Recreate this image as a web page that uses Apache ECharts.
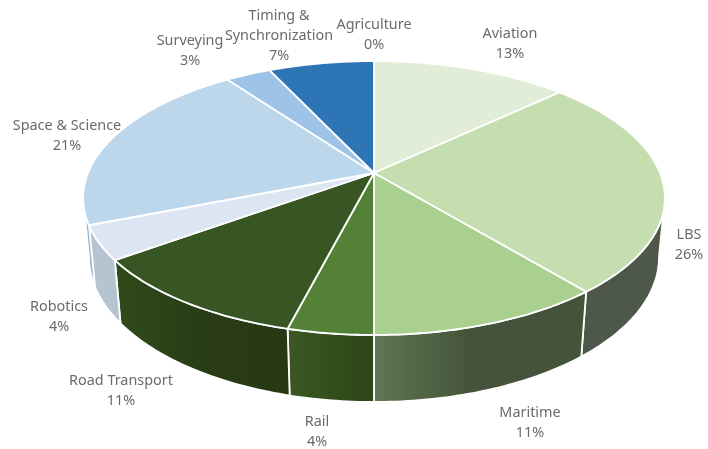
<!DOCTYPE html>
<html><head><meta charset="utf-8">
<style>html,body{margin:0;padding:0;background:#fff}#c{width:708px;height:449px}</style>
<script src="https://cdn.jsdelivr.net/npm/echarts@6/dist/echarts.min.js"></script>
</head><body><div id="c"></div>
<script>
const categories = ["Aviation","LBS","Maritime","Rail","Road Transport","Robotics","Space & Science","Surveying","Timing &\nSynchronization","Agriculture"];
const shares = [13,26,11,4,11,4,21,3,7,0];
const topColors = ["#e2edd8","#c5deb0","#a9d08e","#538135","#375623","#dce6f2","#bcd6ec","#9dc3e6","#2e75b6","#2e75b6"];
const sideStops = [["#e2edd8","#e2edd8","#e2edd8"],["#4d5849","#4d5849","#4d5849"],["#5f7754","#44543a","#44543a"],["#3a5820","#34501d","#2d4418"],["#304b1b","#2a3e16","#263814"],["#b5c4d0","#b5c4d0","#b5c4d0"],["#8fb0cf","#8fb0cf","#8fb0cf"],["#9dc3e6","#9dc3e6","#9dc3e6"],["#2e75b6","#2e75b6","#2e75b6"],["#2e75b6","#2e75b6","#2e75b6"]];
const labelAnchors = [[510,44],[689,245],[530,423],[317,432],[121,391],[59,317],[67,136],[190,51],[279,36],[374,35]];

const total = shares.reduce((a,b)=>a+b,0);
const starts = [];
shares.reduce((a,b,i)=>{starts[i]=a;return a+b;},0);
const CX=374, CY=173, A=286, B=132.4, K=0.1825, D=0.02, E=59.4;
const ang = p => p/total*2*Math.PI;
const topPt = t => {const w=1+K*Math.cos(t);return [CX+A*Math.sin(t)/w, CY-B*Math.cos(t)/w];};
const botPt = t => {const w=1+D+K*Math.cos(t);return [CX+A*Math.sin(t)/w, CY+(E-B*Math.cos(t))/w];};
const VIS0=100.3*Math.PI/180, VIS1=259.7*Math.PI/180;
function arc(fn,a,b){const n=Math.max(2,Math.ceil(Math.abs(b-a)*60));const r=[];for(let j=0;j<=n;j++)r.push(fn(a+(b-a)*j/n));return r;}

function renderSide(params,api){
  const i=api.value(0), v=api.value(1);
  if(!v) return null;
  const a=Math.max(ang(starts[i]),VIS0), b=Math.min(ang(starts[i]+v),VIS1);
  if(b<=a) return null;
  const pts=arc(topPt,a,b).concat(arc(botPt,a,b).reverse());
  return {type:'polygon',shape:{points:pts},style:{
    fill:{type:'linear',x:0,y:0,x2:1,y2:0,global:false,colorStops:[{offset:0,color:sideStops[i][0]},{offset:0.45,color:sideStops[i][1]},{offset:1,color:sideStops[i][2]}]},
    stroke:'#fff',lineWidth:1.8}};
}
function renderTop(params,api){
  const i=api.value(0), v=api.value(1);
  if(!v) return null;
  const a=ang(starts[i]), b=ang(starts[i]+v);
  const pts=[[CX,CY]].concat(arc(topPt,a,b));
  return {type:'polygon',shape:{points:pts},style:{fill:topColors[i],stroke:'#fff',lineWidth:1.8}};
}
function renderLabel(params,api){
  const i=api.value(0), v=api.value(1);
  return {type:'text',style:{x:labelAnchors[i][0],y:labelAnchors[i][1],text:categories[i]+"\n"+v+"%",
    fill:'#6b6b6b',font:'14.4px "Noto Sans"',align:'center',verticalAlign:'middle',lineHeight:20}};
}
const rows = shares.map((v,i)=>[i,v]);
const chart = echarts.init(document.getElementById('c'),null,{renderer:'canvas'});
chart.setOption({
  animation:false,backgroundColor:'#fff',
  series:[
    {type:'custom',coordinateSystem:'none',renderItem:renderSide,data:rows,silent:true},
    {type:'custom',coordinateSystem:'none',renderItem:renderTop,data:rows,silent:true},
    {type:'custom',coordinateSystem:'none',renderItem:renderLabel,data:rows,silent:true}
  ]
});
</script></body></html>
